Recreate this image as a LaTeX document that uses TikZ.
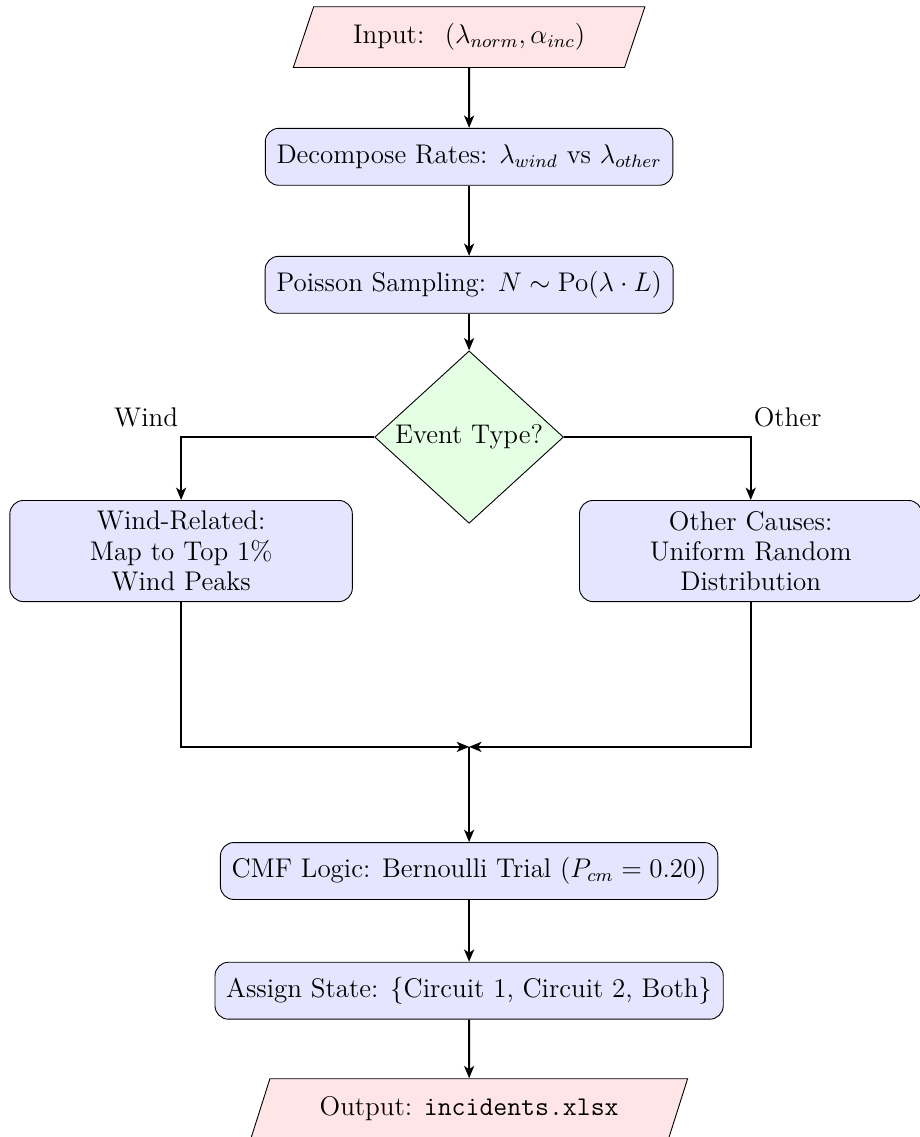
\documentclass[tikz,border=0pt,12pt]{standalone}
\usepackage{amsmath, amssymb}
\usepackage{xcolor}
\usepackage{tikz}
\usetikzlibrary{calc, shapes.geometric, positioning, arrows.meta}

\begin{document}
\begin{tikzpicture}[>={Stealth[length=5.5pt, width=4.5pt, inset=1.5pt]},
    process/.style={draw, rounded corners=6pt, fill=blue!10, minimum height=0.89cm, inner sep=4pt, inner xsep=5pt},
    branch/.style={process, text width=5cm, align=center, minimum height=1.58cm, font=\linespread{0.93}\selectfont},
    io/.style={draw, trapezium, trapezium left angle=70, trapezium right angle=110, trapezium stretches=true, fill=red!10, minimum height=0.95cm},
    decision/.style={draw, diamond, fill=green!10, inner sep=0pt, minimum width=2.95cm, minimum height=2.66cm},
    flow/.style={->, thick}]
    \useasboundingbox (0,0) rectangle (14.375,-17.766);

    % 1. Đầu vào và các bước xử lý chính
    \node[io, minimum width=5.5cm] (input) at (7.33,-0.58) {Input: \ $(\lambda_{norm}, \alpha_{inc})$};
    \node[process] (decomp) at (7.33,-2.45) {Decompose Rates: $\lambda_{wind}$ vs $\lambda_{other}$};
    \node[process] (poisson) at (7.33,-4.45) {Poisson Sampling: $N \sim \mathrm{Po}(\lambda \cdot L)$};
    \node[decision] (type) at (7.33,-6.83) {Event Type?};

    % 2. Hai nhánh theo loại sự cố
    \node[branch] (wind) at (2.83,-8.61) {Wind-Related:\\ Map to Top 1\%\\ Wind Peaks};
    \node[branch] (other) at (11.73,-8.61) {Other Causes:\\ Uniform Random\\ Distribution};
    \coordinate (merge) at (7.33,-11.67);

    % 3. Các bước cuối và đầu ra
    \node[process] (cmf) at (7.33,-13.61) {CMF Logic: Bernoulli Trial ($P_{cm} = 0.20$)};
    \node[process] (state) at (7.33,-15.48) {Assign State: \{Circuit 1, Circuit 2, Both\}};
    \node[io, minimum width=6.83cm] (output) at (7.33,-17.33) {Output: \texttt{incidents.xlsx}};

    % Các mũi tên nối
    \draw[flow] (input) -- (decomp);
    \draw[flow] (decomp) -- (poisson);
    \draw[flow] (poisson) -- (type);
    \draw[flow] (type.west) -| (wind.north) node[pos=0.5, above left, inner xsep=1pt] {Wind};
    \draw[flow] (type.east) -| (other.north) node[pos=0.5, above right, inner xsep=1pt] {Other};
    \draw[flow] (wind.south) |- (merge);
    \draw[flow] (other.south) |- (merge);
    \draw[flow] (merge) -- (cmf);
    \draw[flow] (cmf) -- (state);
    \draw[flow] (state) -- (output);

\end{tikzpicture}
\end{document}
